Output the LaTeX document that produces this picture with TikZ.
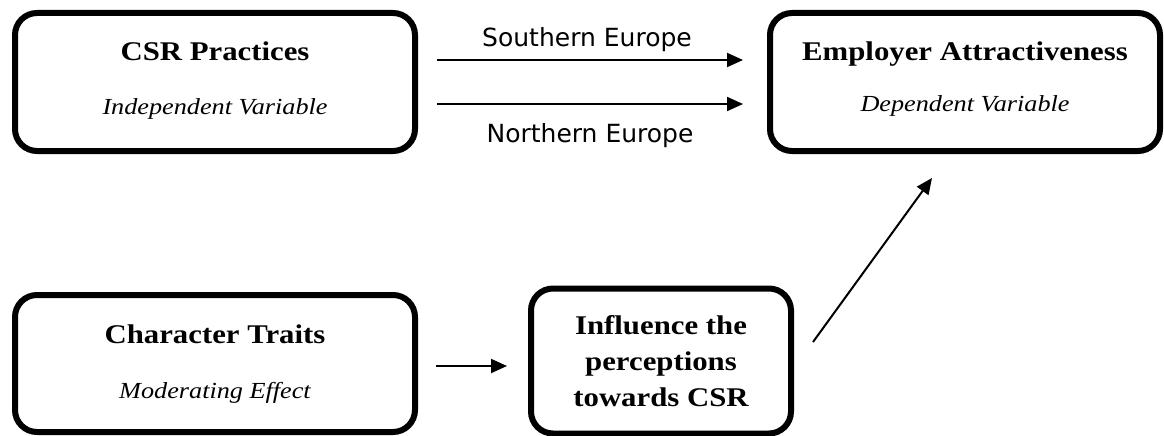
\documentclass[tikz,border=0pt]{standalone}
\usepackage{fontspec}
\setmainfont{Liberation Serif}[FakeStretch=1.14]
\newfontfamily\labelfont{DejaVu Sans}
\usetikzlibrary{arrows.meta}
\begin{document}
\begin{tikzpicture}[x=1pt,y=-1pt,
  box/.style={draw=black, line width=6pt, rounded corners=22pt, inner sep=0pt},
  ttl/.style={anchor=base, font=\fontsize{27}{32}\selectfont\bfseries, inner sep=0pt},
  sub/.style={anchor=base, font=\fontsize{23}{27}\selectfont\itshape, inner sep=0pt},
  lbl/.style={anchor=base, font=\labelfont\fontsize{25}{30}\selectfont, inner sep=0pt},
  arr/.style={line width=2pt, -{Triangle[length=16pt,width=14pt]}}]
\useasboundingbox (0,0) rectangle (1164,436);

% boxes
\node[box, minimum width=400pt, minimum height=138pt] (csr) at (215,82) {};
\node[box, minimum width=390pt, minimum height=138pt] (ea) at (965,82) {};
\node[box, minimum width=400pt, minimum height=137pt] (ct) at (215,363.5) {};
\node[box, minimum width=260pt, minimum height=145pt, align=center,
      font=\fontsize{27}{36}\selectfont\bfseries] (inf) at (661,361)
      {Influence the\\perceptions\\towards CSR};

% texts
\node[ttl] (csrT) at (215,60) {CSR Practices};
\node[sub] (csrS) at (215,114) {Independent Variable};
\node[ttl] (eaT) at (965,61) {Employer Attractiveness};
\node[sub] (eaS) at (965,111) {Dependent Variable};
\node[ttl] (ctT) at (215,343) {Character Traits};
\node[sub] (ctS) at (215,398) {Moderating Effect};

% labels
\node[lbl] (south) at (587,47) {Southern Europe};
\node[lbl] (north) at (590,142) {Northern Europe};

% connectors
\draw[arr] ([xshift=19pt,yshift=22pt]csr.east) -- ([xshift=-24pt,yshift=22pt]ea.west);
\draw[arr] ([xshift=19pt,yshift=-22pt]csr.east) -- ([xshift=-24pt,yshift=-22pt]ea.west);
\draw[arr] ([xshift=18pt,yshift=-2.5pt]ct.east) -- ([xshift=-21pt,yshift=-5pt]inf.west);
\draw[arr] ([xshift=19pt,yshift=19pt]inf.east) -- ([xshift=-33pt,yshift=-24pt]ea.south);
\end{tikzpicture}
\end{document}
